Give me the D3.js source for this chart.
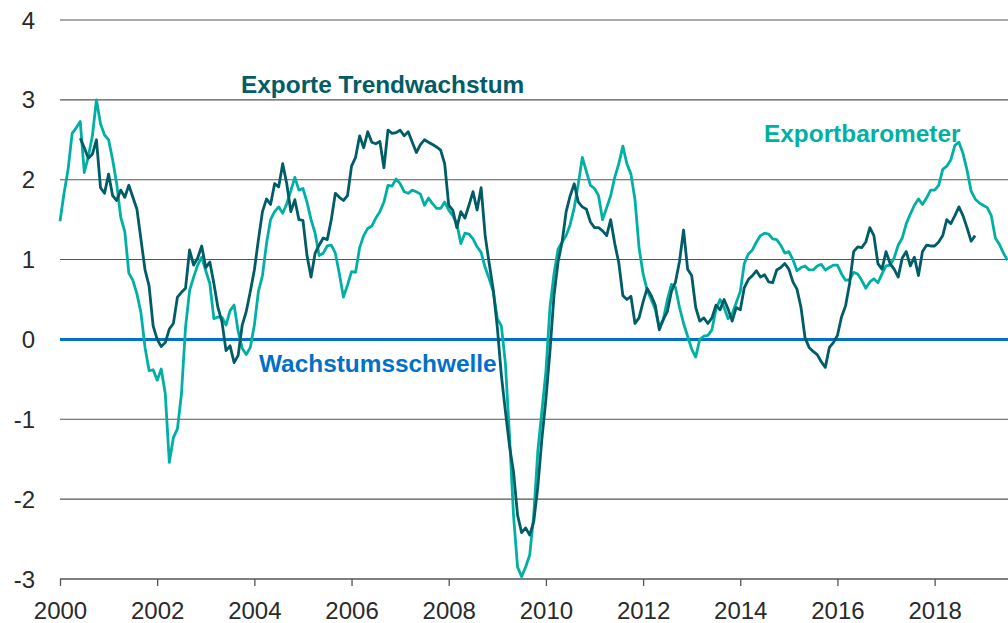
<!DOCTYPE html>
<html>
<head>
<meta charset="utf-8">
<script src="https://cdn.jsdelivr.net/npm/d3@7"></script>
<style>
  html, body { margin: 0; padding: 0; background: #fff; }
  svg { display: block; }
</style>
</head>
<body>
<svg id="chart" width="1008" height="623"></svg>
<script>
// ---- data (monthly, index 0 = Jan 2000) ----
const startYear = 2000;
const baroStartMonth = 0;
const exportbarometer = [
  1.48, 1.83, 2.13, 2.58, 2.65, 2.73, 2.09, 2.29, 2.55, 3.00,
  2.70, 2.56, 2.50, 2.25, 1.95, 1.53, 1.35, 0.83, 0.74, 0.57,
  0.33, -0.10, -0.39, -0.38, -0.51, -0.37, -0.68, -1.54, -1.23, -1.12,
  -0.68, 0.15, 0.61, 0.78, 0.93, 1.03, 0.86, 0.70, 0.26, 0.28,
  0.28, 0.18, 0.36, 0.43, 0.10, -0.11, -0.19, -0.10, 0.18, 0.60,
  0.80, 1.20, 1.50, 1.60, 1.66, 1.58, 1.70, 1.86, 2.03, 1.87,
  1.89, 1.72, 1.50, 1.33, 1.05, 1.08, 1.17, 1.18, 1.08, 0.82,
  0.53, 0.68, 0.85, 0.84, 1.15, 1.30, 1.39, 1.42, 1.52, 1.60,
  1.72, 1.93, 1.92, 2.01, 1.95, 1.85, 1.83, 1.87, 1.85, 1.82,
  1.68, 1.77, 1.70, 1.64, 1.64, 1.72, 1.62, 1.55, 1.45, 1.20,
  1.33, 1.32, 1.26, 1.16, 1.09, 0.90, 0.76, 0.60, 0.26, 0.17,
  -0.30, -1.20, -2.20, -2.85, -2.97, -2.85, -2.70, -2.20, -1.40, -0.90,
  -0.40, 0.40, 0.82, 1.13, 1.22, 1.30, 1.44, 1.65, 1.95, 2.28,
  2.10, 1.93, 1.89, 1.80, 1.50, 1.65, 1.80, 2.03, 2.20, 2.42,
  2.20, 2.07, 1.75, 1.15, 0.82, 0.62, 0.50, 0.38, 0.15, 0.25,
  0.50, 0.69, 0.65, 0.40, 0.20, 0.04, -0.12, -0.22, 0.00, 0.04,
  0.05, 0.12, 0.38, 0.50, 0.40, 0.26, 0.32, 0.46, 0.60, 0.95,
  1.07, 1.12, 1.22, 1.30, 1.33, 1.32, 1.26, 1.25, 1.18, 1.08,
  1.10, 1.00, 0.86, 0.90, 0.92, 0.87, 0.87, 0.92, 0.94, 0.87,
  0.90, 0.93, 0.93, 0.82, 0.74, 0.75, 0.84, 0.82, 0.74, 0.64,
  0.72, 0.76, 0.71, 0.82, 0.92, 0.93, 1.02, 1.18, 1.27, 1.45,
  1.57, 1.68, 1.76, 1.69, 1.77, 1.87, 1.87, 1.93, 2.13, 2.17,
  2.25, 2.43, 2.47, 2.33, 2.12, 1.86, 1.76, 1.71, 1.68, 1.65,
  1.55, 1.27, 1.19, 1.08, 0.99
];
const trendStartMonth = 5;
const exporteTrendwachstum = [
  2.52, 2.40, 2.27, 2.32, 2.50, 1.90, 1.83, 2.07, 1.80, 1.74,
  1.87, 1.78, 1.93, 1.78, 1.63, 1.25, 0.87, 0.67, 0.17, 0.00,
  -0.09, -0.04, 0.13, 0.20, 0.53, 0.59, 0.64, 1.12, 0.93, 1.02,
  1.17, 0.90, 0.97, 0.70, 0.40, 0.22, -0.14, -0.08, -0.29, -0.20,
  0.18, 0.35, 0.60, 0.87, 1.25, 1.60, 1.76, 1.69, 1.95, 1.91,
  2.20, 1.95, 1.60, 1.75, 1.50, 1.49, 1.05, 0.78, 1.08, 1.18,
  1.27, 1.25, 1.50, 1.83, 1.78, 1.74, 1.80, 2.17, 2.28, 2.55,
  2.40, 2.60, 2.47, 2.45, 2.48, 2.15, 2.62, 2.58, 2.59, 2.62,
  2.55, 2.60, 2.47, 2.34, 2.44, 2.50, 2.47, 2.44, 2.41, 2.37,
  2.20, 1.68, 1.62, 1.40, 1.60, 1.52, 1.68, 1.85, 1.62, 1.90,
  1.30, 0.95, 0.62, 0.15, -0.45, -0.90, -1.33, -1.66, -2.20, -2.42,
  -2.36, -2.45, -2.28, -1.85, -1.25, -0.75, -0.15, 0.55, 0.97, 1.22,
  1.60, 1.80, 1.95, 1.72, 1.66, 1.63, 1.47, 1.40, 1.40, 1.36,
  1.30, 1.50, 1.20, 0.96, 0.55, 0.50, 0.54, 0.20, 0.27, 0.47,
  0.64, 0.55, 0.43, 0.12, 0.25, 0.35, 0.60, 0.72, 0.98, 1.37,
  0.88, 0.80, 0.40, 0.23, 0.27, 0.20, 0.27, 0.43, 0.37, 0.50,
  0.38, 0.23, 0.40, 0.37, 0.65, 0.75, 0.80, 0.86, 0.78, 0.81,
  0.72, 0.71, 0.87, 0.90, 0.95, 0.88, 0.72, 0.63, 0.40, 0.02,
  -0.10, -0.15, -0.19, -0.28, -0.35, -0.10, -0.04, 0.05, 0.28, 0.42,
  0.70, 1.10, 1.16, 1.15, 1.22, 1.40, 1.30, 0.95, 0.88, 1.10,
  0.95, 0.88, 0.78, 1.02, 1.10, 0.92, 1.03, 0.80, 1.10, 1.18,
  1.17, 1.17, 1.22, 1.30, 1.50, 1.45, 1.55, 1.66, 1.55, 1.40,
  1.23, 1.30
];
const yTicks = [-3, -2, -1, 0, 1, 2, 3, 4];
const xTickYears = [2000, 2002, 2004, 2006, 2008, 2010, 2012, 2014, 2016, 2018];
const threshold = 0;
const labels = {
  trend: "Exporte Trendwachstum",
  baro: "Exportbarometer",
  threshold: "Wachstumsschwelle"
};

// ---- chart ----
const svg = d3.select("#chart");
const mLeft = 60, mRight = 1008, mTop = 20, mBottom = 579;

const x = d3.scaleLinear().domain([2000, 2019.51]).range([mLeft, mRight]);
const y = d3.scaleLinear().domain([-3, 4]).range([mBottom, mTop]);

const font = "'Liberation Sans', Arial, Helvetica, sans-serif";
const colTrend = "#005c66";
const colBaro = "#00b0a4";
const colZero = "#0070c8";

// gridlines
svg.append("g")
  .selectAll("line")
  .data(yTicks.filter(d => d !== threshold && d !== -3))
  .join("line")
  .attr("x1", mLeft).attr("x2", mRight)
  .attr("y1", d => y(d)).attr("y2", d => y(d))
  .attr("stroke", "#555").attr("stroke-width", 1.1);

// y labels
svg.append("g")
  .selectAll("text")
  .data(yTicks)
  .join("text")
  .attr("x", 35)
  .attr("y", d => y(d))
  .attr("dy", "0.36em")
  .attr("text-anchor", "end")
  .attr("font-family", font)
  .attr("font-size", 24)
  .attr("fill", "#2a2a2a")
  .text(d => d);

// x axis
const xAxis = d3.axisBottom(x)
  .tickValues(xTickYears)
  .tickFormat(d3.format("d"))
  .tickSize(7)
  .tickPadding(16);
const gx = svg.append("g")
  .attr("transform", `translate(0,${mBottom})`)
  .call(xAxis);
gx.select(".domain").attr("stroke", "#555").attr("stroke-width", 1.3)
  .attr("d", `M${mLeft},0H${mRight}`);
gx.selectAll(".tick line").attr("stroke", "#555").attr("stroke-width", 1.3);
gx.selectAll(".tick text")
  .attr("font-family", font)
  .attr("font-size", 24)
  .attr("fill", "#2a2a2a");

// zero threshold line
svg.append("line")
  .attr("x1", mLeft).attr("x2", mRight)
  .attr("y1", y(threshold)).attr("y2", y(threshold))
  .attr("stroke", colZero).attr("stroke-width", 3);

// series
const toYear = (start, i) => startYear + (start + i) / 12;
const lineGen = start => d3.line()
  .x((d, i) => x(toYear(start, i)))
  .y(d => y(d));

svg.append("path")
  .datum(exportbarometer)
  .attr("d", lineGen(baroStartMonth))
  .attr("fill", "none")
  .attr("stroke", colBaro)
  .attr("stroke-width", 2.8)
  .attr("stroke-linejoin", "round");

svg.append("path")
  .datum(exporteTrendwachstum)
  .attr("d", lineGen(trendStartMonth))
  .attr("fill", "none")
  .attr("stroke", colTrend)
  .attr("stroke-width", 2.8)
  .attr("stroke-linejoin", "round");

// labels
const lab = (txt, xx, yy, col) => svg.append("text")
  .attr("x", xx).attr("y", yy)
  .attr("font-family", font)
  .attr("font-weight", "bold")
  .attr("font-size", 24.4)
  .attr("fill", col)
  .text(txt);
lab(labels.trend, 241, 93, colTrend);
lab(labels.baro, 764, 142, colBaro);
lab(labels.threshold, 259, 372, colZero);
</script>
</body>
</html>
